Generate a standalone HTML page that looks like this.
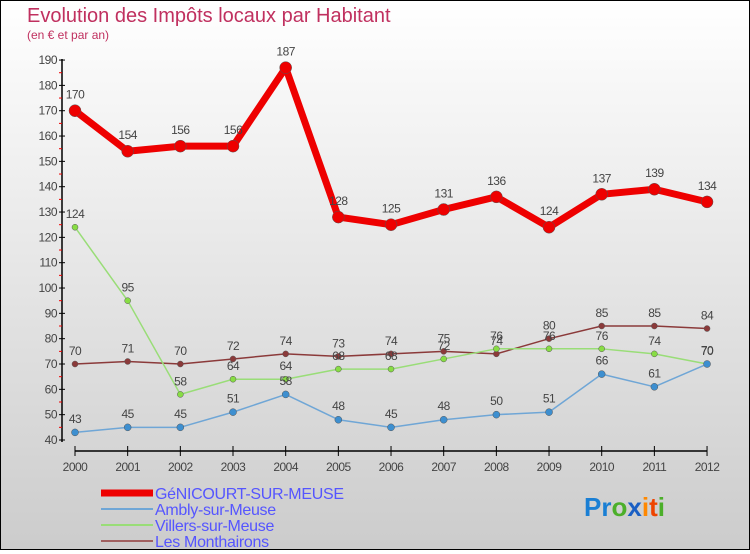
<!DOCTYPE html>
<html><head><meta charset="utf-8">
<style>
html,body{margin:0;padding:0;}
body{width:750px;height:550px;overflow:hidden;font-family:"Liberation Sans",sans-serif;}
#wrap{position:absolute;left:0;top:0;width:748px;height:548px;border:1px solid #000;background:linear-gradient(#ffffff,#cccccc);}
</style></head>
<body>
<div id="wrap">
<svg id="chart" width="748" height="548"></svg>
</div>
<script>
const years=[2000,2001,2002,2003,2004,2005,2006,2007,2008,2009,2010,2011,2012];
const genicourt=[170,154,156,156,187,128,125,131,136,124,137,139,134];
const ambly=[43,45,45,51,58,48,45,48,50,51,66,61,70];
const villers=[124,95,58,64,64,68,68,72,76,76,76,74,70];
const monthairons=[70,71,70,72,74,73,74,75,74,80,85,85,84];
const yTicks=[40,50,60,70,80,90,100,110,120,130,140,150,160,170,180,190];

const NS="http://www.w3.org/2000/svg";
const svg=document.getElementById('chart');
function X(i){return 74+i*52.67;}
function Y(v){return 439-(v-40)*2.533;}
function el(tag,attrs,parent){const e=document.createElementNS(NS,tag);for(const k in attrs)e.setAttribute(k,attrs[k]);(parent||svg).appendChild(e);return e;}

const t1=el('text',{x:26,y:21,'font-size':20,fill:'#c0305f'});t1.textContent='Evolution des Impôts locaux par Habitant';


const t2=el('text',{x:26,y:38,'font-size':12,fill:'#c0305f'});t2.textContent='(en € et par an)';



const ya=el('line',{x1:61,y1:58,x2:61,y2:441,stroke:'#000','stroke-width':1.5});


const xa=el('line',{x1:74,y1:450,x2:706,y2:450,stroke:'#000','stroke-width':1.5});


yTicks.forEach(v=>{
 el('line',{x1:58,y1:Y(v),x2:64,y2:Y(v),stroke:'#000'});
 if(v<190) el('line',{x1:58,y1:Y(v+5),x2:61,y2:Y(v+5),stroke:'#e00'});
 const t=el('text',{x:56,y:Y(v)+4,'font-size':12,fill:'#444','text-anchor':'end','letter-spacing':'-0.5'});t.textContent=v;
 
 
});
years.forEach((yr,i)=>{
 el('line',{x1:X(i),y1:445,x2:X(i),y2:455,stroke:'#000'});
 const t=el('text',{x:X(i),y:470,'font-size':12,fill:'#444','text-anchor':'middle','letter-spacing':'-0.5'});t.textContent=yr;
 
 
});

function series(data,color,w,r,name,dot){
 const g=el('g',{});
 
 
 const p=el('polyline',{points:data.map((v,i)=>X(i)+','+Y(v)).join(' '),fill:'none',stroke:color,'stroke-width':w,'stroke-linejoin':'round'},g);
 
 
 data.forEach((v,i)=>{
  const c=el('circle',{cx:X(i),cy:Y(v),r:r,fill:dot,stroke:'#555','stroke-width':0.5},g);
  
  
  const t=el('text',{x:X(i),y:Y(v)-(r+6),'font-size':12,fill:'#444','text-anchor':'middle','letter-spacing':'-0.5'},g);t.textContent=v;
  
  
 });
}
series(monthairons,'#8b3a3a',1.5,3,'les-monthairons','#8b3a3a');
series(villers,'#99dd77',1.5,3,'villers-sur-meuse','#88dd44');
series(ambly,'#6fa6d6',1.5,3.5,'ambly-sur-meuse','#3d8fd0');
series(genicourt,'#ee0000',7,6,'genicourt-sur-meuse','#ee0000');

const legend=[['GéNICOURT-SUR-MEUSE','#ee0000',7],['Ambly-sur-Meuse','#6fa6d6',2],['Villers-sur-Meuse','#99dd77',2],['Les Monthairons','#a06060',2]];
legend.forEach((l,i)=>{
 const y=492+i*16;
 const g=el('g',{});
 
 
 el('line',{x1:100,y1:y,x2:152,y2:y,stroke:l[1],'stroke-width':l[2]},g);
 const t=el('text',{x:154,y:y+6,'font-size':16,fill:'#5555ff','letter-spacing':'-0.3'},g);t.textContent=l[0];
});
const lg=el('text',{x:583,y:515,'font-size':26,'font-weight':'bold'});


[['Pr','#1a7fd4'],['o','#4caf2a'],['x','#1a5fc4'],['i','#ff8800'],['t','#ee4400'],['i','#4caf2a']].forEach(s=>{const ts=el('tspan',{fill:s[1]},lg);ts.textContent=s[0];});
</script>
</body></html>
